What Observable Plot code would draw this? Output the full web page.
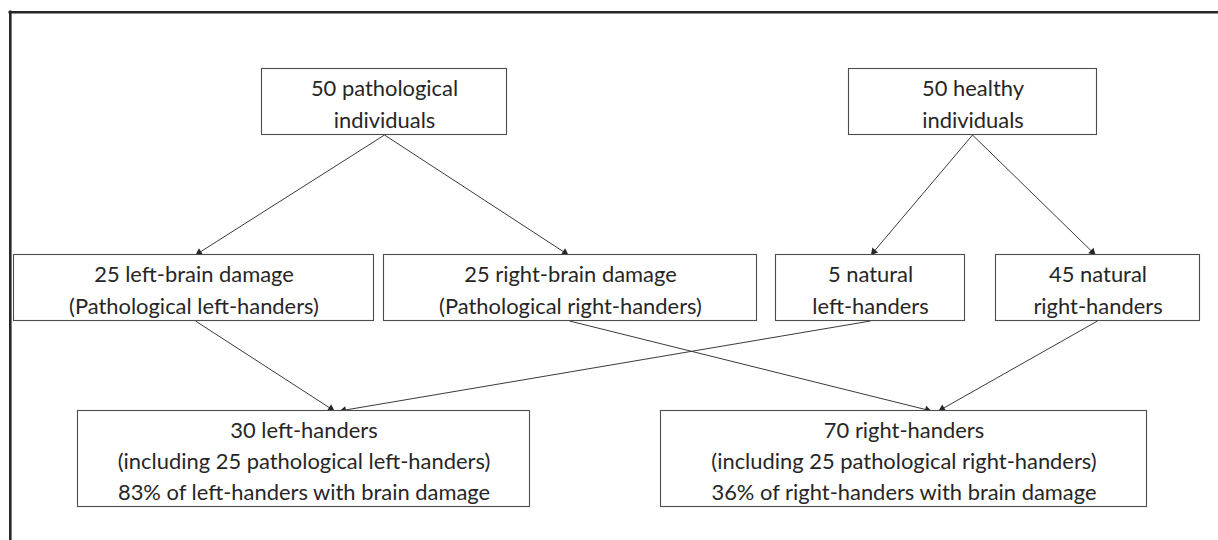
<!DOCTYPE html>
<html><head><meta charset="utf-8">
<script src="https://cdn.jsdelivr.net/npm/d3@7"></script>
<script src="https://cdn.jsdelivr.net/npm/@observablehq/plot@0.6"></script>
<style>html,body{margin:0;padding:0;background:#fff;overflow:hidden}</style>
</head><body><div id="chart"></div>
<script>
// Node labels (diagram content)
const nodeLabels = [
  "50 pathological\nindividuals",
  "50 healthy\nindividuals",
  "25 left-brain damage\n(Pathological left-handers)",
  "25 right-brain damage\n(Pathological right-handers)",
  "5 natural\nleft-handers",
  "45 natural\nright-handers",
  "30 left-handers\n(including 25 pathological left-handers)\n83% of left-handers with brain damage",
  "70 right-handers\n(including 25 pathological right-handers)\n36% of right-handers with brain damage"
];
// Node layout (pixel coordinates of the diagram)
const nodeX1 = [261.5, 848.5, 13.5, 383.5, 775.5, 995.5, 77.5, 660.5];
const nodeX2 = [506.5, 1096.5, 373.5, 756.5, 964.5, 1199.5, 529.5, 1146.5];
const nodeY1 = [68.5, 68.5, 254.5, 254.5, 254.5, 254.5, 410.5, 410.5];
const nodeY2 = [134.5, 134.5, 320.5, 320.5, 320.5, 320.5, 506.5, 506.5];
// Edges: source, target, start x, end (arrow tip) x
const edgeFrom = [0, 0, 1, 1, 2, 4, 3, 5];
const edgeTo   = [2, 3, 4, 5, 6, 6, 7, 7];
const edgeX1   = [384, 384, 972, 972, 195, 870, 569, 1097];
const edgeX2   = [195, 568, 870.5, 1095, 334, 339, 931, 938];

const nodes = nodeLabels.map((label, i) => ({
  label, x1: nodeX1[i], x2: nodeX2[i], y1: nodeY1[i], y2: nodeY2[i],
  cx: (nodeX1[i] + nodeX2[i]) / 2, cy: (nodeY1[i] + nodeY2[i]) / 2
}));
const edges = edgeFrom.map((f, i) => {
  const x1 = edgeX1[i], y1 = nodes[f].y2;
  const x2 = edgeX2[i], y2 = nodes[edgeTo[i]].y1;
  const L = Math.hypot(x2 - x1, y2 - y1);
  const ux = (x2 - x1) / L, uy = (y2 - y1) / L;
  const tipd = 4.3;
  return {x1, y1, x2, y2, hx: x2 - ux * tipd, hy: y2 - uy * tipd,
          angle: Math.atan2(ux, -uy) * 180 / Math.PI};
});

// font size to match reference text width
const fontFamily = "Lato, 'Open Sans', sans-serif";
const ctx = document.createElement("canvas").getContext("2d");
ctx.font = "20px Lato";
const w20 = ctx.measureText("(Pathological left-handers)").width;
const fontSize = Math.max(16, Math.min(22, 20 * 250 / w20));

const frameTop = [{x1: 8.5, x2: 1218, y: 11.8}];
const frameLeft = [{x: 9.8, y1: 10.6, y2: 540}];

const chart = Plot.plot({
  width: 1218, height: 540,
  margin: 0,
  x: {domain: [0, 1218], range: [0, 1218], axis: null},
  y: {domain: [0, 540], range: [0, 540], axis: null},
  style: {background: "#fff", fontFamily},
  marks: [
    Plot.ruleY(frameTop, {y: "y", x1: "x1", x2: "x2", stroke: "#262626", strokeWidth: 2.6}),
    Plot.ruleX(frameLeft, {x: "x", y1: "y1", y2: "y2", stroke: "#262626", strokeWidth: 2.6}),
    Plot.link(edges, {x1: "x1", y1: "y1", x2: "hx", y2: "hy", stroke: "#3a3a3a", strokeWidth: 1}),
    Plot.dot(edges, {x: "hx", y: "hy", symbol: "triangle", r: 2.8, rotate: "angle", fill: "#262626", stroke: "none"}),
    Plot.rect(nodes, {x1: "x1", x2: "x2", y1: "y1", y2: "y2", fill: "#fff", stroke: "#4d4d4d", strokeWidth: 1.1}),
    Plot.text(nodes, {x: "cx", y: "cy", text: "label", fontSize, lineHeight: 1.42, fill: "#262626", textAnchor: "middle", lineAnchor: "middle"})
  ]
});
document.getElementById("chart").appendChild(chart);
</script>
</body></html>
